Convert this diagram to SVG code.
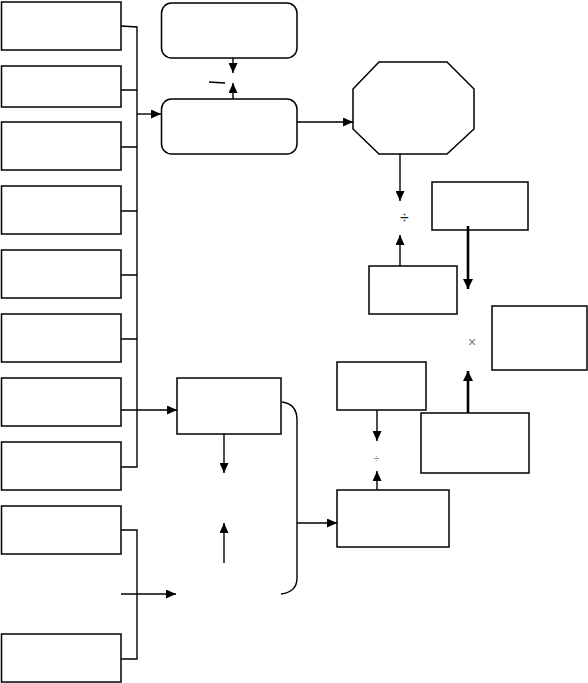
<svg xmlns="http://www.w3.org/2000/svg" width="588" height="683" viewBox="0 0 588 683">
<style>
.b{fill:#fff;stroke:#000;stroke-width:1.5}
.c{fill:none;stroke:#000;stroke-width:1.4}
.t{stroke:#000;stroke-width:2.6;fill:none}
.s{font-family:"Liberation Sans",Arial,sans-serif;text-anchor:middle}
</style>
<defs>
<marker id="a" markerUnits="userSpaceOnUse" markerWidth="10" markerHeight="9" refX="10" refY="4.5" orient="auto"><path d="M0,0 L10,4.5 L0,9 z" fill="#000"/></marker>
<marker id="ta" markerUnits="userSpaceOnUse" markerWidth="10" markerHeight="10" refX="10" refY="5" orient="auto"><path d="M0,0 L10,5 L0,10 z" fill="#000"/></marker>
</defs>
<rect width="588" height="683" fill="#fff"/>
<g id="L1"><rect class="b" x="1.5" y="2" width="119.5" height="48"/></g>
<g id="L2"><rect class="b" x="1.5" y="66" width="119.5" height="41"/></g>
<g id="L3"><rect class="b" x="1.5" y="122" width="119.5" height="48"/></g>
<g id="L4"><rect class="b" x="1.5" y="186" width="119.5" height="48"/></g>
<g id="L5"><rect class="b" x="1.5" y="250" width="119.5" height="48"/></g>
<g id="L6"><rect class="b" x="1.5" y="314" width="119.5" height="48"/></g>
<g id="L7"><rect class="b" x="1.5" y="378" width="119.5" height="48"/></g>
<g id="L8"><rect class="b" x="1.5" y="442" width="119.5" height="48"/></g>
<g id="L9"><rect class="b" x="1.5" y="506" width="119.5" height="48"/></g>
<g id="L10"><rect class="b" x="1.5" y="634" width="119.5" height="48"/></g>
<g id="R1"><rect class="b" x="161.5" y="3" width="135.5" height="55" rx="10"/></g>
<g id="R2"><rect class="b" x="161.5" y="99" width="135.5" height="55" rx="10"/></g>
<g id="OCT"><polygon class="b" points="379,62 447,62 474,89 474,129 447,154 379,154 353,129 353,89"/></g>
<g id="B1"><rect class="b" x="432" y="182" width="96" height="48"/></g>
<g id="B2"><rect class="b" x="369" y="266" width="88" height="48"/></g>
<g id="B3"><rect class="b" x="492" y="306" width="95" height="64"/></g>
<g id="B4"><rect class="b" x="337" y="362" width="89" height="48"/></g>
<g id="B5"><rect class="b" x="421" y="413" width="108" height="60"/></g>
<g id="M1"><rect class="b" x="177" y="378" width="104" height="56"/></g>
<g id="M2"><rect class="b" x="337" y="490" width="112" height="57"/></g>
<g id="ops">
<text class="s" x="404.5" y="223" font-size="16" fill="#222">÷</text>
<text class="s" x="472" y="347" font-size="14" fill="#777">×</text>
<text class="s" x="376.5" y="462" font-size="10" fill="#888">÷</text>
</g>
<g id="connectors">
<path class="c" d="M121,26 L137,27 L137,467 L121,467"/>
<path class="c" d="M121,90 H137 M121,147 H137 M121,211 H137 M121,275 H137 M121,339 H137 M121,410 H137"/>
<path class="c" d="M137,114 H161" marker-end="url(#a)"/>
<path class="c" d="M137,410 H177" marker-end="url(#a)"/>
<path class="c" d="M121,530 H137 V659 H121 M121,594 H137"/>
<path class="c" d="M137,594 H176" marker-end="url(#a)"/>
<path class="c" d="M233,58 V73" marker-end="url(#a)"/>
<path class="c" d="M233,99 V83" marker-end="url(#a)"/>
<path class="c" d="M209,82 L225,83"/>
<path class="c" d="M297,122 H353" marker-end="url(#a)"/>
<path class="c" d="M400,154 V201" marker-end="url(#a)"/>
<path class="c" d="M400,266 V235" marker-end="url(#a)"/>
<path class="t" d="M468,226 V289" marker-end="url(#ta)"/>
<path class="t" d="M468,413 V371" marker-end="url(#ta)"/>
<path class="c" d="M377,410 V441" marker-end="url(#a)"/>
<path class="c" d="M377,490 V471" marker-end="url(#a)"/>
<path class="c" d="M224,434 V473" marker-end="url(#a)"/>
<path class="c" d="M224,563 V523" marker-end="url(#a)"/>
<path class="c" d="M282,402 Q297,404 297,420 V578 Q297,592 281,594"/>
<path class="c" d="M297,523 H337" marker-end="url(#a)"/>
</g>
</svg>
